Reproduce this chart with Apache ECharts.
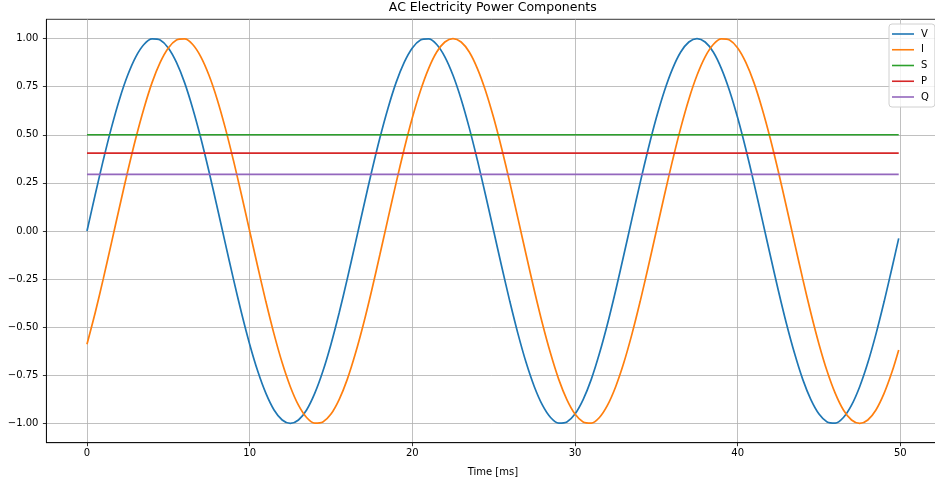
<!DOCTYPE html>
<html>
<head>
<meta charset="utf-8">
<script src="https://cdn.jsdelivr.net/npm/echarts@6/dist/echarts.min.js"></script>
<style>
html,body{margin:0;padding:0;background:#fff;}
#chart{width:935px;height:483px;}
</style>
</head>
<body>
<div id="chart"></div>
<script>
var timeMs = [0,0.5,1,1.5,2,2.5,3,3.5,4,4.5,5,5.5,6,6.5,7,7.5,8,8.5,9,9.5,
  10,10.5,11,11.5,12,12.5,13,13.5,14,14.5,15,15.5,16,16.5,17,17.5,18,18.5,19,19.5,
  20,20.5,21,21.5,22,22.5,23,23.5,24,24.5,25,25.5,26,26.5,27,27.5,28,28.5,29,29.5,
  30,30.5,31,31.5,32,32.5,33,33.5,34,34.5,35,35.5,36,36.5,37,37.5,38,38.5,39,39.5,
  40,40.5,41,41.5,42,42.5,43,43.5,44,44.5,45,45.5,46,46.5,47,47.5,48,48.5,49,49.5,49.9];

var voltage = [0,0.187,0.368,0.536,0.685,0.809,0.905,0.969,0.998,0.992,
  0.951,0.876,0.771,0.637,0.482,0.309,0.125,-0.063,-0.249,-0.426,
  -0.588,-0.729,-0.844,-0.930,-0.982,-1.000,-0.982,-0.930,-0.844,-0.729,
  -0.588,-0.426,-0.249,-0.063,0.125,0.309,0.482,0.637,0.771,0.876,
  0.951,0.992,0.998,0.969,0.905,0.809,0.685,0.536,0.368,0.187,
  0,-0.187,-0.368,-0.536,-0.685,-0.809,-0.905,-0.969,-0.998,-0.992,
  -0.951,-0.876,-0.771,-0.637,-0.482,-0.309,-0.125,0.063,0.249,0.426,
  0.588,0.729,0.844,0.930,0.982,1.000,0.982,0.930,0.844,0.729,
  0.588,0.426,0.249,0.063,-0.125,-0.309,-0.482,-0.637,-0.771,-0.876,
  -0.951,-0.992,-0.998,-0.969,-0.905,-0.809,-0.685,-0.536,-0.368,-0.187,-0.038];

var current = [-0.588,-0.426,-0.249,-0.063,0.125,0.309,0.482,0.637,0.771,0.876,
  0.951,0.992,0.998,0.969,0.905,0.809,0.685,0.536,0.368,0.187,
  0,-0.187,-0.368,-0.536,-0.685,-0.809,-0.905,-0.969,-0.998,-0.992,
  -0.951,-0.876,-0.771,-0.637,-0.482,-0.309,-0.125,0.063,0.249,0.426,
  0.588,0.729,0.844,0.930,0.982,1.000,0.982,0.930,0.844,0.729,
  0.588,0.426,0.249,0.063,-0.125,-0.309,-0.482,-0.637,-0.771,-0.876,
  -0.951,-0.992,-0.998,-0.969,-0.905,-0.809,-0.685,-0.536,-0.368,-0.187,
  0,0.187,0.368,0.536,0.685,0.809,0.905,0.969,0.998,0.992,
  0.951,0.876,0.771,0.637,0.482,0.309,0.125,-0.063,-0.249,-0.426,
  -0.588,-0.729,-0.844,-0.930,-0.982,-1.000,-0.982,-0.930,-0.844,-0.729,-0.618];

var apparentS = 0.5;
var activeP = 0.405;
var reactiveQ = 0.294;

var seriesNames = ['V','I','S','P','Q'];
var seriesColors = ['#1f77b4','#ff7f0e','#2ca02c','#d62728','#9467bd'];
var xTicks = [0,10,20,30,40,50];
var yTicks = [-1,-0.75,-0.5,-0.25,0,0.25,0.5,0.75,1];

function pairs(xs, ys){ return xs.map(function(x,i){ return [x, ys[i]]; }); }
function constLine(v){ return [[timeMs[0], v],[timeMs[timeMs.length-1], v]]; }

var FONT = 'DejaVu Sans';
var chart = echarts.init(document.getElementById('chart'), null, {renderer:'canvas'});

function lineSeries(name, idx, data, smooth){
  return {
    name: name, type: 'line', data: data, showSymbol: false, symbol: 'none',
    smooth: smooth, animation: false, z: 3,
    lineStyle: {color: seriesColors[idx], width: 1.7},
    itemStyle: {color: seriesColors[idx]}
  };
}

chart.setOption({
  animation: false,
  backgroundColor: '#fff',
  textStyle: {fontFamily: FONT},
  title: {
    text: 'AC Electricity Power Components',
    left: 492.8, top: 1, padding: 0, textAlign: 'center',
    textStyle: {fontFamily: FONT, fontSize: 12.5, fontWeight: 'normal', color: '#000'}
  },
  legend: {
    data: seriesNames,
    orient: 'vertical',
    left: 889, top: 24,
    padding: [4, 6, 4, 3],
    icon: 'rect', itemWidth: 22, itemHeight: 1.6,
    itemGap: 3.75,
    backgroundColor: 'rgba(255,255,255,0.8)',
    borderColor: '#d0d0d0', borderWidth: 1, borderRadius: 3,
    textStyle: {fontFamily: FONT, fontSize: 10, color: '#000', lineHeight: 12, padding: [0,0,0,2]}
  },
  grid: {left: 46.4, top: 19.3, width: 892.9, height: 423.4, outerBoundsMode: 'none', containLabel: false,
    show: true, borderColor: '#000', borderWidth: 0.8, backgroundColor: 'transparent'},
  xAxis: {
    type: 'value', min: -2.495, max: 52.395,
    name: 'Time [ms]', nameLocation: 'middle', nameGap: 25,
    nameTextStyle: {fontFamily: FONT, fontSize: 10, color: '#000'},
    axisLine: {show: true, onZero: false, lineStyle: {color: '#000', width: 0.8}},
    axisTick: {show: true, length: 3.5, lineStyle: {color: '#000', width: 0.8}, customValues: xTicks},
    axisLabel: {customValues: xTicks, margin: 6, fontFamily: FONT, fontSize: 10, color: '#000',
      formatter: function(v){ return String(v); }},
    splitLine: {show: true, lineStyle: {color: '#b0b0b0', width: 0.8}}
  },
  yAxis: {
    type: 'value', min: -1.1, max: 1.1,
    axisLine: {show: true, onZero: false, lineStyle: {color: '#000', width: 0.8}},
    axisTick: {show: true, length: 3.5, lineStyle: {color: '#000', width: 0.8}, customValues: yTicks},
    axisLabel: {customValues: yTicks, margin: 8, fontFamily: FONT, fontSize: 10, color: '#000',
      formatter: function(v){ return (v < 0 ? '\u2212' : '') + Math.abs(v).toFixed(2); }},
    splitLine: {show: true, lineStyle: {color: '#b0b0b0', width: 0.8}}
  },
  series: [
    lineSeries('V', 0, pairs(timeMs, voltage), 0.3),
    lineSeries('I', 1, pairs(timeMs, current), 0.3),
    lineSeries('S', 2, constLine(apparentS), false),
    lineSeries('P', 3, constLine(activeP), false),
    lineSeries('Q', 4, constLine(reactiveQ), false)
  ]
});
</script>
</body>
</html>
